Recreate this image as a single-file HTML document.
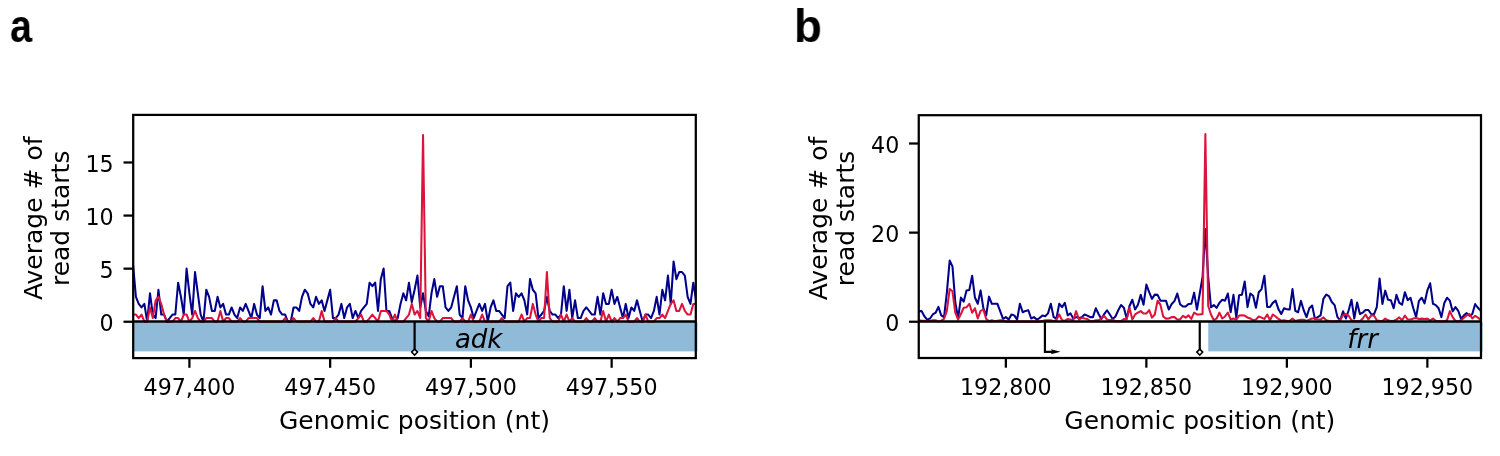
<!DOCTYPE html>
<html lang="en">
<head>
<meta charset="utf-8">
<title>Read starts around cleavage sites</title>
<style>
html,body{margin:0;padding:0;background:#fff;}
body{width:1500px;height:456px;overflow:hidden;position:relative;font-family:"DejaVu Sans","Liberation Sans",sans-serif;}
svg{position:absolute;left:0;top:0;display:block;will-change:transform;}
svg text{font-family:"DejaVu Sans","Liberation Sans",sans-serif;font-size:22.2px;fill:#000;}
svg text.lab{font-size:25px;}
svg text.gene{font-size:26px;font-style:italic;}
.pl{position:absolute;will-change:transform;font-family:"Liberation Sans","DejaVu Sans",sans-serif;font-weight:bold;font-size:47px;line-height:1;color:#000;transform-origin:left top;}
</style>
</head>
<body>
<div class="pl" style="left:9.6px;top:2px;transform:scaleX(0.84);">a</div>
<div class="pl" style="left:794px;top:2px;transform:scaleX(0.97);">b</div>
<svg width="1500" height="456" viewBox="0 0 1500 456">
<clipPath id="clipa"><rect x="133.2" y="114.9" width="562.5999999999999" height="243.20000000000002"/></clipPath>
<rect x="133.20" y="322.05" width="564.30" height="29.35" fill="#8fbbd9"/>
<g clip-path="url(#clipa)" fill="none" stroke-linejoin="round" stroke-linecap="butt">
<polyline points="133.10,264.98 135.91,296.83 138.73,303.91 141.54,307.44 144.36,303.91 147.17,321.60 149.99,293.29 152.81,314.52 155.62,318.06 158.44,289.75 161.25,314.52 164.06,314.52 166.88,321.60 169.69,318.06 172.51,314.52 175.32,314.52 178.14,282.67 180.95,296.83 183.77,314.52 186.58,268.51 189.40,293.29 192.22,314.52 195.03,272.05 197.84,293.29 200.66,314.52 203.47,321.60 206.29,289.75 209.10,296.83 211.92,310.98 214.74,310.98 217.55,296.83 220.37,307.44 223.18,303.91 226.00,314.52 228.81,314.52 231.62,307.44 234.44,314.52 237.25,318.06 240.07,307.44 242.88,310.98 245.70,303.91 248.51,310.98 251.33,318.06 254.14,303.91 256.96,314.52 259.77,318.06 262.59,286.21 265.40,310.98 268.22,307.44 271.03,314.52 273.85,300.37 276.66,300.37 279.48,310.98 282.29,314.52 285.11,314.52 287.92,321.60 290.74,321.60 293.55,307.44 296.37,307.44 299.19,310.98 302.00,296.83 304.81,289.75 307.63,293.29 310.44,303.91 313.26,307.44 316.07,296.83 318.89,303.91 321.70,300.37 324.52,310.98 327.33,300.37 330.15,289.75 332.97,318.06 335.78,318.06 338.60,314.52 341.41,303.91 344.23,318.06 347.04,307.44 349.86,303.91 352.67,318.06 355.49,310.98 358.30,318.06 361.12,310.98 363.93,307.44 366.75,303.91 369.56,282.67 372.38,286.21 375.19,282.67 378.00,310.98 380.82,279.13 383.63,268.51 386.45,310.98 389.26,310.98 392.08,318.06 394.89,321.60 397.71,318.06 400.52,303.91 403.34,293.29 406.15,300.37 408.97,282.67 411.78,302.14 414.60,289.75 417.41,275.59 420.23,307.44 423.04,293.29 425.86,310.98 428.67,316.29 431.49,293.29 434.30,279.13 437.12,296.83 439.93,286.21 442.75,286.21 445.56,307.44 448.38,310.98 451.19,307.44 454.01,296.83 456.82,286.21 459.64,314.52 462.46,318.06 465.27,286.21 468.09,300.37 470.90,307.44 473.72,318.06 476.53,310.98 479.35,303.91 482.16,310.98 484.98,303.91 487.79,321.60 490.61,307.44 493.42,300.37 496.24,310.98 499.05,310.98 501.87,314.52 504.68,318.06 507.50,286.21 510.31,282.67 513.12,310.98 515.94,293.29 518.75,296.83 521.57,293.29 524.38,300.37 527.20,314.52 530.01,279.13 532.83,289.75 535.64,293.29 538.46,318.06 541.27,314.52 544.09,310.98 546.90,296.83 549.72,310.98 552.53,314.52 555.35,314.52 558.16,318.06 560.98,314.52 563.79,286.21 566.61,310.98 569.42,289.75 572.24,318.06 575.05,300.37 577.87,318.06 580.68,318.06 583.50,310.98 586.31,307.44 589.13,310.98 591.94,314.52 594.76,314.52 597.57,296.83 600.39,314.52 603.21,293.29 606.02,303.91 608.84,303.91 611.65,289.75 614.47,303.91 617.28,296.83 620.10,307.44 622.91,318.06 625.73,303.91 628.54,318.06 631.36,307.44 634.17,310.98 636.99,300.37 639.80,310.98 642.62,321.60 645.43,314.52 648.25,314.52 651.06,318.06 653.88,310.98 656.69,296.83 659.50,314.52 662.32,289.75 665.13,300.37 667.95,275.59 670.76,303.91 673.58,261.44 676.39,279.13 679.21,272.05 682.02,272.05 684.84,275.59 687.65,296.83 690.47,303.91 693.28,282.67 696.10,300.37" stroke="#00008b" stroke-width="2.05"/>
<polyline points="133.10,314.52 135.91,314.52 138.73,318.06 141.54,314.52 144.36,321.60 147.17,321.60 149.99,307.44 152.81,318.06 155.62,300.37 158.44,296.83 161.25,303.91 164.06,314.52 166.88,321.60 169.69,321.60 172.51,321.60 175.32,318.06 178.14,318.06 180.95,321.60 183.77,314.52 186.58,314.52 189.40,321.60 192.22,318.06 195.03,310.98 197.84,318.06 200.66,321.60 203.47,321.60 206.29,318.06 209.10,318.06 211.92,318.06 214.74,321.60 217.55,321.60 220.37,310.98 223.18,321.60 226.00,318.06 228.81,318.06 231.62,321.60 234.44,321.60 237.25,321.60 240.07,318.06 242.88,321.60 245.70,321.60 248.51,318.06 251.33,318.06 254.14,318.06 256.96,318.06 259.77,321.60 262.59,321.60 265.40,321.60 268.22,321.60 271.03,321.60 273.85,321.60 276.66,321.60 279.48,321.60 282.29,321.60 285.11,318.06 287.92,321.60 290.74,321.60 293.55,318.06 296.37,321.60 299.19,321.60 302.00,321.60 304.81,321.60 307.63,321.60 310.44,321.60 313.26,318.06 316.07,321.60 318.89,321.60 321.70,310.98 324.52,321.60 327.33,321.60 330.15,321.60 332.97,321.60 335.78,318.06 338.60,321.60 341.41,321.60 344.23,321.60 347.04,321.60 349.86,321.60 352.67,321.60 355.49,321.60 358.30,318.06 361.12,314.52 363.93,321.60 366.75,321.60 369.56,318.06 372.38,314.52 375.19,318.06 378.00,321.60 380.82,310.98 383.63,310.98 386.45,310.98 389.26,314.52 392.08,321.60 394.89,314.52 397.71,321.60 400.52,321.60 403.34,321.60 406.15,318.06 408.97,314.52 411.78,303.91 414.60,314.52 417.41,310.98 420.23,318.06 423.04,135.09 425.86,318.06 428.67,321.60 431.49,310.98 434.30,318.06 437.12,321.60 439.93,321.60 442.75,318.06 445.56,318.06 448.38,318.06 451.19,318.06 454.01,321.60 456.82,321.60 459.64,321.60 462.46,318.06 465.27,321.60 468.09,321.60 470.90,314.52 473.72,321.60 476.53,321.60 479.35,321.60 482.16,314.52 484.98,321.60 487.79,321.60 490.61,321.60 493.42,321.60 496.24,321.60 499.05,321.60 501.87,318.06 504.68,321.60 507.50,321.60 510.31,321.60 513.12,321.60 515.94,321.60 518.75,321.60 521.57,314.52 524.38,321.60 527.20,318.06 530.01,318.06 532.83,303.91 535.64,314.52 538.46,321.60 541.27,318.06 544.09,318.06 546.90,272.05 549.72,318.06 552.53,321.60 555.35,321.60 558.16,321.60 560.98,314.52 563.79,321.60 566.61,314.52 569.42,321.60 572.24,318.06 575.05,321.60 577.87,321.60 580.68,321.60 583.50,321.60 586.31,318.06 589.13,321.60 591.94,321.60 594.76,318.06 597.57,321.60 600.39,321.60 603.21,310.98 606.02,321.60 608.84,314.52 611.65,321.60 614.47,318.06 617.28,321.60 620.10,318.06 622.91,318.06 625.73,314.52 628.54,321.60 631.36,321.60 634.17,321.60 636.99,318.06 639.80,321.60 642.62,321.60 645.43,314.52 648.25,321.60 651.06,321.60 653.88,321.60 656.69,318.06 659.50,318.06 662.32,314.52 665.13,318.06 667.95,310.98 670.76,303.91 673.58,300.37 676.39,310.98 679.21,310.98 682.02,303.91 684.84,310.98 687.65,314.52 690.47,314.52 693.28,303.91 696.10,303.91" stroke="#dc143c" stroke-width="2.05"/>
</g>
<line x1="133.2" y1="321.45" x2="695.8" y2="321.45" stroke="#000" stroke-width="2.6"/>
<line x1="414.60" y1="321.75" x2="414.60" y2="349.5" stroke="#000" stroke-width="2.2"/>
<path d="M414.60 349.1 L417.60 352.1 L414.60 355.1 L411.60 352.1 Z" fill="#fff" stroke="#000" stroke-width="1.5"/>
<rect x="133.2" y="114.9" width="562.5999999999999" height="243.20000000000002" fill="none" stroke="#000" stroke-width="2.25"/>
<line x1="123.50" y1="321.75" x2="133.20" y2="321.75" stroke="#000" stroke-width="2.25"/>
<text x="113.70" y="330.85" text-anchor="end">0</text>
<line x1="123.50" y1="268.66" x2="133.20" y2="268.66" stroke="#000" stroke-width="2.25"/>
<text x="113.70" y="277.76" text-anchor="end">5</text>
<line x1="123.50" y1="215.58" x2="133.20" y2="215.58" stroke="#000" stroke-width="2.25"/>
<text x="113.70" y="224.68" text-anchor="end">10</text>
<line x1="123.50" y1="162.49" x2="133.20" y2="162.49" stroke="#000" stroke-width="2.25"/>
<text x="113.70" y="171.59" text-anchor="end">15</text>
<line x1="189.40" y1="358.10" x2="189.40" y2="367.80" stroke="#000" stroke-width="2.25"/>
<text x="189.40" y="394.50" text-anchor="middle">497,400</text>
<line x1="330.15" y1="358.10" x2="330.15" y2="367.80" stroke="#000" stroke-width="2.25"/>
<text x="330.15" y="394.50" text-anchor="middle">497,450</text>
<line x1="470.90" y1="358.10" x2="470.90" y2="367.80" stroke="#000" stroke-width="2.25"/>
<text x="470.90" y="394.50" text-anchor="middle">497,500</text>
<line x1="611.65" y1="358.10" x2="611.65" y2="367.80" stroke="#000" stroke-width="2.25"/>
<text x="611.65" y="394.50" text-anchor="middle">497,550</text>
<text x="414.50" y="428.6" class="lab" text-anchor="middle">Genomic position (nt)</text>
<text transform="translate(41.80,218.32) rotate(-90)" class="lab" text-anchor="middle">Average # of</text>
<text transform="translate(68.60,218.32) rotate(-90)" class="lab" text-anchor="middle">read starts</text>
<text x="478.70" y="347.5" class="gene" text-anchor="middle">adk</text>
<clipPath id="clipb"><rect x="918.75" y="115.2" width="562.25" height="242.8"/></clipPath>
<rect x="1208.25" y="322.05" width="274.35" height="29.35" fill="#8fbbd9"/>
<g clip-path="url(#clipb)" fill="none" stroke-linejoin="round" stroke-linecap="butt">
<polyline points="918.75,311.35 921.56,310.91 924.37,316.25 927.18,319.59 929.99,318.48 932.80,314.47 935.61,312.69 938.42,306.90 941.23,315.36 944.04,317.14 946.85,292.64 949.66,260.55 952.47,266.35 955.28,301.99 958.09,318.48 960.90,297.54 963.71,301.55 966.52,290.41 969.33,289.96 972.14,275.70 974.95,297.54 977.76,303.78 980.57,290.41 983.38,308.23 986.19,315.36 989.00,296.65 991.81,303.78 994.62,303.78 997.43,303.78 1000.24,311.35 1003.05,318.93 1005.86,317.14 1008.67,319.59 1011.48,314.47 1014.29,315.36 1017.10,319.59 1019.91,303.78 1022.72,312.24 1025.53,310.91 1028.34,310.24 1031.15,318.48 1033.96,317.14 1036.77,319.59 1039.58,318.04 1042.39,315.58 1045.20,316.25 1048.01,313.36 1050.82,303.78 1053.63,317.14 1056.44,318.48 1059.25,303.78 1062.06,307.12 1064.87,302.88 1067.68,315.36 1070.49,313.36 1073.30,318.61 1076.11,317.14 1078.92,318.04 1081.73,317.14 1084.54,314.47 1087.35,315.58 1090.16,317.14 1092.97,317.14 1095.78,308.23 1098.59,314.02 1101.40,318.93 1104.21,314.02 1107.02,310.24 1109.83,314.47 1112.64,318.93 1115.45,316.48 1118.26,310.24 1121.07,305.11 1123.88,307.79 1126.69,318.48 1129.50,306.00 1132.31,299.77 1135.12,309.57 1137.93,304.67 1140.74,294.86 1143.55,304.67 1146.36,284.62 1149.17,292.19 1151.98,298.87 1154.79,294.64 1157.60,294.86 1160.41,300.66 1163.22,300.66 1166.03,300.88 1168.84,309.57 1171.65,304.00 1174.46,301.10 1177.27,293.53 1180.08,304.22 1182.89,306.45 1185.70,306.45 1188.51,304.00 1191.32,303.78 1194.13,292.64 1196.94,309.57 1199.75,293.53 1202.56,277.04 1205.37,228.92 1208.18,277.04 1210.99,307.34 1213.80,305.11 1216.61,307.79 1219.42,302.88 1222.23,299.77 1225.04,300.66 1227.85,293.53 1230.66,312.24 1233.47,294.86 1236.28,317.59 1239.09,295.31 1241.90,294.86 1244.71,281.50 1247.52,307.12 1250.33,293.53 1253.14,295.76 1255.95,307.79 1258.76,292.19 1261.57,289.07 1264.38,275.70 1267.19,306.90 1270.00,306.90 1272.81,302.88 1275.62,300.66 1278.43,309.12 1281.24,314.02 1284.05,308.23 1286.86,309.35 1289.67,309.57 1292.48,289.07 1295.29,310.91 1298.10,312.24 1300.91,300.88 1303.72,310.24 1306.53,317.14 1309.34,308.23 1312.15,305.56 1314.96,318.93 1317.77,317.14 1320.58,315.36 1323.39,298.87 1326.20,294.64 1329.01,296.20 1331.82,301.99 1334.63,305.11 1337.44,317.14 1340.25,320.26 1343.06,311.35 1345.87,318.48 1348.68,310.24 1351.49,299.77 1354.30,318.48 1357.11,302.44 1359.92,314.02 1362.73,312.69 1365.54,310.01 1368.35,310.01 1371.16,314.02 1373.97,314.47 1376.78,307.12 1379.59,278.60 1382.40,304.00 1385.21,290.63 1388.02,299.77 1390.83,300.21 1393.64,308.23 1396.45,294.86 1399.26,302.88 1402.07,304.67 1404.88,292.19 1407.69,300.21 1410.50,297.76 1413.31,308.23 1416.12,317.14 1418.93,300.88 1421.74,297.76 1424.55,303.33 1427.36,290.41 1430.17,283.28 1432.98,303.78 1435.79,305.11 1438.60,308.23 1441.41,317.14 1444.22,303.33 1447.03,297.76 1449.84,300.66 1452.65,311.35 1455.46,307.12 1458.27,310.91 1461.08,318.93 1463.89,315.36 1466.70,313.13 1469.51,315.81 1472.32,314.02 1475.13,304.00 1477.94,307.79 1480.75,310.91" stroke="#00008b" stroke-width="2.05"/>
<polyline points="918.75,320.26 921.56,320.71 924.37,320.71 927.18,321.15 929.99,320.71 932.80,320.26 935.61,320.26 938.42,321.60 941.23,320.71 944.04,318.93 946.85,310.91 949.66,289.07 952.47,291.30 955.28,312.69 958.09,319.59 960.90,314.02 963.71,307.79 966.52,307.34 969.33,303.78 972.14,312.69 974.95,308.23 977.76,318.48 980.57,310.91 983.38,309.57 986.19,318.93 989.00,321.15 991.81,320.26 994.62,321.15 997.43,320.71 1000.24,320.26 1003.05,320.26 1005.86,321.60 1008.67,321.60 1011.48,321.60 1014.29,321.60 1017.10,321.60 1019.91,321.60 1022.72,321.60 1025.53,321.60 1028.34,321.60 1031.15,321.60 1033.96,321.60 1036.77,321.60 1039.58,321.60 1042.39,320.93 1045.20,320.26 1048.01,320.26 1050.82,320.26 1053.63,321.15 1056.44,319.82 1059.25,314.47 1062.06,320.26 1064.87,320.93 1067.68,318.93 1070.49,319.59 1073.30,320.26 1076.11,311.13 1078.92,319.59 1081.73,317.81 1084.54,318.48 1087.35,318.93 1090.16,321.15 1092.97,321.15 1095.78,320.26 1098.59,320.26 1101.40,318.26 1104.21,315.81 1107.02,319.59 1109.83,320.26 1112.64,319.59 1115.45,321.15 1118.26,320.93 1121.07,321.15 1123.88,318.93 1126.69,319.37 1129.50,307.79 1132.31,319.59 1135.12,314.47 1137.93,312.69 1140.74,311.13 1143.55,313.58 1146.36,313.58 1149.17,310.01 1151.98,317.59 1154.79,314.47 1157.60,300.66 1160.41,304.67 1163.22,316.48 1166.03,318.61 1168.84,318.48 1171.65,317.14 1174.46,317.14 1177.27,319.59 1180.08,319.37 1182.89,315.81 1185.70,317.59 1188.51,315.36 1191.32,318.93 1194.13,312.69 1196.94,314.47 1199.75,314.47 1202.56,314.02 1205.37,134.00 1208.18,306.00 1210.99,314.47 1213.80,320.26 1216.61,318.48 1219.42,312.69 1222.23,318.48 1225.04,316.48 1227.85,312.69 1230.66,319.59 1233.47,318.48 1236.28,319.59 1239.09,315.58 1241.90,315.36 1244.71,315.58 1247.52,317.59 1250.33,318.48 1253.14,320.26 1255.95,319.59 1258.76,316.48 1261.57,317.59 1264.38,318.93 1267.19,314.47 1270.00,320.26 1272.81,314.47 1275.62,316.48 1278.43,318.93 1281.24,320.71 1284.05,320.26 1286.86,320.93 1289.67,320.71 1292.48,318.61 1295.29,320.93 1298.10,320.26 1300.91,319.82 1303.72,319.82 1306.53,320.93 1309.34,319.59 1312.15,318.48 1314.96,318.48 1317.77,319.59 1320.58,319.59 1323.39,317.37 1326.20,320.26 1329.01,320.93 1331.82,321.15 1334.63,321.15 1337.44,321.15 1340.25,319.59 1343.06,315.36 1345.87,314.02 1348.68,315.81 1351.49,320.26 1354.30,321.15 1357.11,320.93 1359.92,321.15 1362.73,318.48 1365.54,314.47 1368.35,319.37 1371.16,315.58 1373.97,315.58 1376.78,320.26 1379.59,320.93 1382.40,320.93 1385.21,318.61 1388.02,320.26 1390.83,320.93 1393.64,320.71 1396.45,319.59 1399.26,317.37 1402.07,320.26 1404.88,315.58 1407.69,319.37 1410.50,319.59 1413.31,318.48 1416.12,318.04 1418.93,318.93 1421.74,318.61 1424.55,318.93 1427.36,318.61 1430.17,320.26 1432.98,318.61 1435.79,320.71 1438.60,320.93 1441.41,321.15 1444.22,321.15 1447.03,320.26 1449.84,311.13 1452.65,317.14 1455.46,320.93 1458.27,321.15 1461.08,320.26 1463.89,317.72 1466.70,315.36 1469.51,314.02 1472.32,318.48 1475.13,315.81 1477.94,317.59 1480.75,320.26" stroke="#dc143c" stroke-width="2.05"/>
</g>
<line x1="918.75" y1="321.45" x2="1481.0" y2="321.45" stroke="#000" stroke-width="2.6"/>
<line x1="1199.75" y1="321.75" x2="1199.75" y2="349.5" stroke="#000" stroke-width="2.2"/>
<path d="M1199.75 349.1 L1202.75 352.1 L1199.75 355.1 L1196.75 352.1 Z" fill="#fff" stroke="#000" stroke-width="1.5"/>
<path d="M1044.92 321.75 V351.8 H1052.92" fill="none" stroke="#000" stroke-width="2.2"/>
<path d="M1050.92 349.3 L1060.52 351.8 L1050.92 354.3 L1052.42 351.8 Z" fill="#000"/>
<rect x="918.75" y="115.2" width="562.25" height="242.8" fill="none" stroke="#000" stroke-width="2.25"/>
<line x1="909.05" y1="321.75" x2="918.75" y2="321.75" stroke="#000" stroke-width="2.25"/>
<text x="899.25" y="330.85" text-anchor="end">0</text>
<line x1="909.05" y1="232.63" x2="918.75" y2="232.63" stroke="#000" stroke-width="2.25"/>
<text x="899.25" y="241.73" text-anchor="end">20</text>
<line x1="909.05" y1="143.51" x2="918.75" y2="143.51" stroke="#000" stroke-width="2.25"/>
<text x="899.25" y="152.61" text-anchor="end">40</text>
<line x1="1005.86" y1="358.00" x2="1005.86" y2="367.70" stroke="#000" stroke-width="2.25"/>
<text x="1005.86" y="394.50" text-anchor="middle">192,800</text>
<line x1="1146.36" y1="358.00" x2="1146.36" y2="367.70" stroke="#000" stroke-width="2.25"/>
<text x="1146.36" y="394.50" text-anchor="middle">192,850</text>
<line x1="1286.86" y1="358.00" x2="1286.86" y2="367.70" stroke="#000" stroke-width="2.25"/>
<text x="1286.86" y="394.50" text-anchor="middle">192,900</text>
<line x1="1427.36" y1="358.00" x2="1427.36" y2="367.70" stroke="#000" stroke-width="2.25"/>
<text x="1427.36" y="394.50" text-anchor="middle">192,950</text>
<text x="1199.88" y="428.6" class="lab" text-anchor="middle">Genomic position (nt)</text>
<text transform="translate(827.35,218.47) rotate(-90)" class="lab" text-anchor="middle">Average # of</text>
<text transform="translate(854.15,218.47) rotate(-90)" class="lab" text-anchor="middle">read starts</text>
<text x="1362.60" y="347.5" class="gene" text-anchor="middle">frr</text>
</svg>
</body>
</html>
